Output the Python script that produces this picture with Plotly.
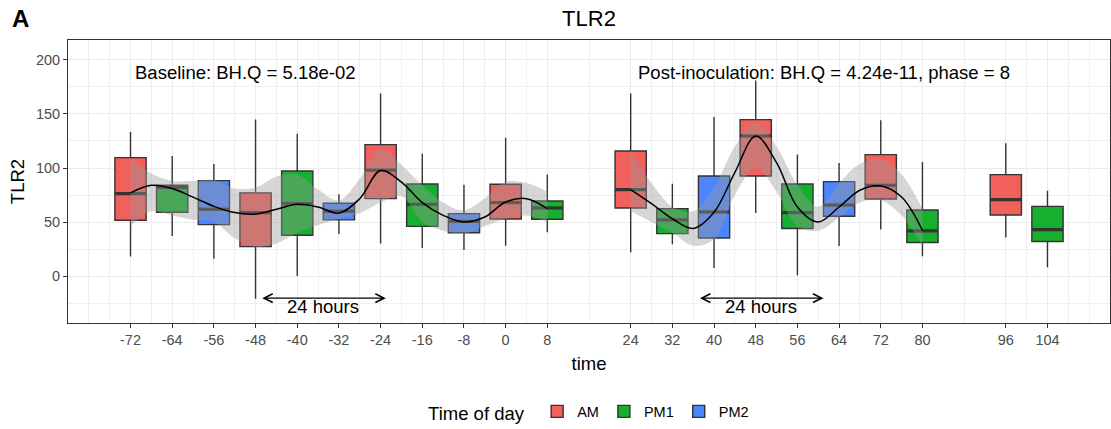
import plotly.graph_objects as go

# ---------------- data ----------------
times = [-72, -64, -56, -48, -40, -32, -24, -16, -8, 0, 8,
         24, 32, 40, 48, 56, 64, 72, 80, 96, 104]
tod = ["AM", "PM1", "PM2", "AM", "PM1", "PM2", "AM", "PM1", "PM2", "AM", "PM1",
       "AM", "PM1", "PM2", "AM", "PM1", "PM2", "AM", "PM1", "AM", "PM1"]
lower_whisker = [18, 37, 16, -21, 0, 39, 30, 26, 24, 28, 40.5,
                 22, 29.4, 7.4, 58.3, 0.6, 27.8, 43, 18.2, 35.6, 8]
q1 = [51.6, 59, 47.6, 27.2, 37.7, 52, 71.6, 46, 40, 52.8, 52.5,
      63, 39.2, 35.2, 92.6, 44, 55.3, 71.3, 31, 56.5, 32]
median = [76.3, 82, 61.8, 58.7, 67, 60, 98, 66.4, 50.6, 68, 63,
          80, 52, 59.3, 129.6, 58.7, 65.7, 84, 41.7, 70.7, 43]
q3 = [109.6, 84, 88.3, 77, 97.2, 67.3, 121.6, 85.2, 57.8, 85, 69.5,
      115.8, 62.4, 92.6, 144.8, 85.2, 87.4, 112.4, 61.1, 93.9, 64.5]
upper_whisker = [133.4, 111, 103.7, 144.8, 131.8, 75.6, 169, 113.3, 84.6, 128, 94,
                 169, 85.5, 147.2, 181, 112.4, 104.6, 144.2, 105.6, 123, 79]

base_t = [-72, -68, -64, -60, -56, -52, -48, -44, -40, -36, -32,
          -28, -24, -20, -16, -12, -8, -4, 0, 4, 8]
base_fit = [77, 84, 81, 73, 64.5, 58.7, 57.4, 61.8, 66.4, 63.9, 58.3,
            71.6, 97.6, 87, 67.9, 56.2, 50, 54.6, 68.5, 71.6, 62.4]
base_upper = [108, 95, 88, 88, 89, 81, 82, 92, 94, 80, 70,
              90, 118, 103, 84, 68, 61, 72, 87, 86, 78]
base_lower = [46, 60, 56, 52, 50, 35, 27, 30, 40, 47, 53,
              58, 68, 74, 50, 42, 39, 46, 53, 56, 50]

post_t = [24, 28, 32, 36, 40, 44, 48, 52, 56, 60, 64, 68, 72, 76, 80]
post_fit = [80, 67, 53, 44, 59, 96, 129.5, 105, 63.9, 50, 63.9, 79.4, 83.3, 73.1, 42.3]
post_upper = [117, 86, 64, 60, 82, 120, 142, 120, 84, 64, 86, 104, 108, 94, 62]
post_lower = [60, 50, 40, 28, 34, 75, 100, 78, 46, 42, 54, 68, 70, 56, 28]

x_minor = [-80, -76, -68, -60, -52, -44, -36, -28, -20, -12, -4, 4, 16,
           28, 36, 44, 52, 60, 68, 76, 88, 100, 108, 112]

groups = ["AM", "PM1", "PM2"]
colors = {"AM": "#F2605C", "PM1": "#17B02E", "PM2": "#4B86FF"}

BOX_W = 6
FONT = "Liberation Sans, Arial, sans-serif"
OUTLINE = "#333333"

fig = go.Figure()

for g in groups:
    idx = [i for i, t in enumerate(tod) if t == g]
    fig.add_trace(go.Box(
        x=[times[i] for i in idx],
        q1=[q1[i] for i in idx],
        median=[median[i] for i in idx],
        q3=[q3[i] for i in idx],
        lowerfence=[lower_whisker[i] for i in idx],
        upperfence=[upper_whisker[i] for i in idx],
        name=g, legendgroup=g,
        fillcolor=colors[g],
        line=dict(color=OUTLINE, width=1.4),
        whiskerwidth=0, width=BOX_W, boxpoints=False,
        hoverinfo="skip",
    ))

# thick median bars (ggplot fatten)
mx, my = [], []
for t, m in zip(times, median):
    mx += [t - BOX_W / 2, t + BOX_W / 2, None]
    my += [m, m, None]
fig.add_trace(go.Scatter(x=mx, y=my, mode="lines",
                         line=dict(color=OUTLINE, width=3.2),
                         showlegend=False, hoverinfo="skip"))

RIB = "rgba(153,153,153,0.4)"
for tt, lo, up, fit in [(base_t, base_lower, base_upper, base_fit),
                        (post_t, post_lower, post_upper, post_fit)]:
    fig.add_trace(go.Scatter(x=tt, y=lo, mode="lines",
                             line=dict(width=0, shape="spline", color=RIB),
                             showlegend=False, hoverinfo="skip"))
    fig.add_trace(go.Scatter(x=tt, y=up, mode="lines", fill="tonexty",
                             fillcolor=RIB,
                             line=dict(width=0, shape="spline", color=RIB),
                             showlegend=False, hoverinfo="skip"))
    fig.add_trace(go.Scatter(x=tt, y=fit, mode="lines",
                             line=dict(width=1.5, shape="spline", color="black"),
                             showlegend=False, hoverinfo="skip"))

ann_font = dict(family=FONT, size=18.5, color="black")
annotations = [
    dict(text="<b>A</b>", xref="paper", yref="paper", x=-0.0455, y=1.077,
         xanchor="center", yanchor="middle",
         showarrow=False, font=dict(family=FONT, size=24, color="black")),
    dict(text="Baseline: BH.Q = 5.18e-02", xref="x", yref="y", x=-50, y=188.8,
         showarrow=False, font=ann_font),
    dict(text="Post-inoculation: BH.Q = 4.24e-11, phase = 8", xref="x", yref="y",
         x=61.2, y=188.8, showarrow=False, font=ann_font),
    dict(text="24 hours", xref="x", yref="y", x=-35, y=-28.5,
         showarrow=False, font=ann_font),
    dict(text="24 hours", xref="x", yref="y", x=49, y=-28.5,
         showarrow=False, font=ann_font),
]
for a0, a1 in [(-47, -23), (37, 61)]:
    annotations.append(dict(
        text="", xref="x", yref="y", axref="x", ayref="y",
        x=a1, y=-20.5, ax=a0, ay=-20.5, showarrow=True,
        arrowhead=5, arrowside="end+start", arrowsize=1.3, arrowwidth=1.3,
        arrowcolor="black", standoff=0, startstandoff=0))

fig.update_layout(
    width=1111, height=429,
    margin=dict(l=68, r=1, t=40, b=106, autoexpand=False),
    paper_bgcolor="white", plot_bgcolor="white",
    boxmode="overlay",
    font=dict(family=FONT, color="black"),
    title=dict(text="TLR2", x=0.5, xref="paper", xanchor="center",
               y=1 - 18 / 429, yref="container", yanchor="middle",
               font=dict(family=FONT, size=22, color="black")),
    annotations=annotations,
    legend=dict(orientation="h", x=0.501, xanchor="center",
                y=1 - 413 / 429, yref="container", yanchor="middle",
                title=dict(text="Time of day ", font=dict(size=18.5, color="black")),
                font=dict(family=FONT, size=14.5, color="black")),
)

fig.update_xaxes(
    range=[-84, 116],
    tickmode="array", tickvals=times, ticktext=[str(t) for t in times],
    tickfont=dict(family=FONT, size=14.5, color="#4D4D4D"),
    ticks="outside", ticklen=4, tickcolor=OUTLINE, tickwidth=1,
    showgrid=True, gridcolor="#EBEBEB", gridwidth=1.3,
    minor=dict(tickmode="array", tickvals=x_minor, showgrid=True,
               gridcolor="#EFEFEF", gridwidth=0.7, ticks=""),
    showline=True, mirror=True, linecolor=OUTLINE, linewidth=1,
    zeroline=False, automargin=False,
    title=dict(text="time", font=dict(family=FONT, size=18.5, color="black"), standoff=9),
)
fig.update_yaxes(
    range=[-43.5, 218.5],
    tickmode="linear", tick0=0, dtick=50,
    tickfont=dict(family=FONT, size=14.5, color="#4D4D4D"),
    ticks="outside", ticklen=4, tickcolor=OUTLINE, tickwidth=1,
    showgrid=True, gridcolor="#EBEBEB", gridwidth=1.3,
    minor=dict(tick0=25, dtick=50, showgrid=True, gridcolor="#EFEFEF",
               gridwidth=0.7, ticks=""),
    showline=True, mirror=True, linecolor=OUTLINE, linewidth=1,
    zeroline=False, automargin=False,
    title=dict(text="TLR2", font=dict(family=FONT, size=18.5, color="black"), standoff=6),
)

fig.write_html("out.html")
